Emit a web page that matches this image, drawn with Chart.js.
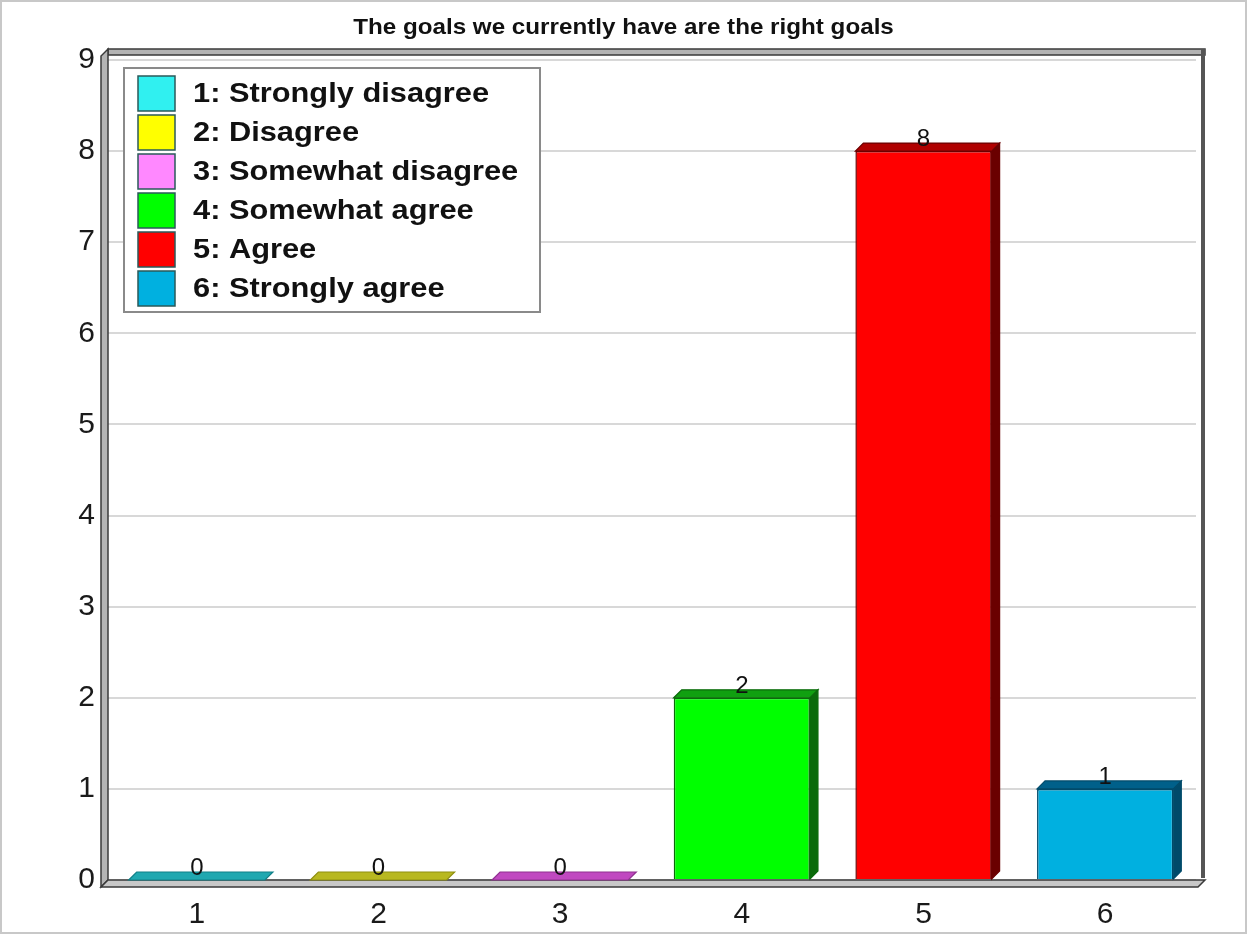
<!DOCTYPE html>
<html>
<head>
<meta charset="utf-8">
<script src="https://cdn.jsdelivr.net/npm/chart.js@4.4.0/dist/chart.umd.min.js"></script>
<style>
  body { margin: 0; background: #fff; }
  canvas { display: block; }
</style>
</head>
<body>
<canvas id="myChart" width="1247" height="934"></canvas>
<script>
var title = 'The goals we currently have are the right goals'
var labels = ['1', '2', '3', '4', '5', '6']
var legendNames = ['1: Strongly disagree', '2: Disagree', '3: Somewhat disagree', '4: Somewhat agree', '5: Agree', '6: Strongly agree']
var counts = [0, 0, 0, 2, 8, 1]

// front, top, side colours for each answer
var colors = ['#30f0f0', '#ffff00', '#ff88ff', '#00ff00', '#ff0000', '#00b0e0']
var topColors = ['#20a8b0', '#b8b820', '#c048c0', '#10a010', '#b00000', '#00608a']
var sideColors = ['#108088', '#909010', '#903090', '#0a6a0a', '#6a0000', '#004a6a']
var DEPTH = 8

var FONT = '"Liberation Sans", Arial, sans-serif'

function stretchedText(c, txt, x, y, size, bold, align) {
  c.save()
  c.font = (bold ? 'bold ' : '') + size + 'px ' + FONT
  c.translate(x, y)
  c.scale(1.1, 1)
  c.textAlign = align || 'left'
  c.textBaseline = 'middle'
  c.fillStyle = '#111'
  c.fillText(txt, 0, 0)
  c.restore()
}

var frame3d = {
  id: 'frame3d',
  beforeDraw: function(chart) {
    var c = chart.ctx
    c.save()
    c.fillStyle = '#fff'
    c.fillRect(0, 0, chart.width, chart.height)
    c.strokeStyle = '#c8c8c8'
    c.lineWidth = 2
    c.strokeRect(1, 1, chart.width - 2, chart.height - 2)
    c.restore()
    stretchedText(c, title, chart.width / 2, 28, 22, true, 'center')
  },
  beforeDatasetsDraw: function(chart) {
    var c = chart.ctx, a = chart.chartArea
    var L = a.left, R = a.right, T = a.top, B = a.bottom
    c.save()
    c.lineWidth = 1.5
    c.strokeStyle = '#3a3a3a'
    c.fillStyle = '#b4b4b4'
    // top slab
    c.beginPath()
    c.moveTo(L + 2, T - 11); c.lineTo(R + 9, T - 11); c.lineTo(R + 9, T - 5); c.lineTo(L + 2, T - 5)
    c.closePath(); c.fill(); c.stroke()
    // right wall edge
    c.fillStyle = '#555'
    c.fillRect(R + 5, T - 11, 4, B - T + 9)
    // left slab
    c.fillStyle = '#b4b4b4'
    c.beginPath()
    c.moveTo(L - 5, B + 7); c.lineTo(L - 5, T - 4); c.lineTo(L + 2, T - 11); c.lineTo(L + 2, B)
    c.closePath(); c.fill(); c.stroke()
    // floor
    c.fillStyle = '#c8c8c8'
    c.beginPath()
    c.moveTo(L - 5, B + 7); c.lineTo(R + 2, B + 7); c.lineTo(R + 9, B); c.lineTo(L + 2, B)
    c.closePath(); c.fill(); c.stroke()
    c.restore()
  },
  afterDatasetsDraw: function(chart) {
    var c = chart.ctx
    var meta = chart.getDatasetMeta(0)
    c.save()
    meta.data.forEach(function(bar, i) {
      var l = bar.x - bar.width / 2, r = bar.x + bar.width / 2
      var y = bar.y, b = bar.base
      c.lineWidth = 1.2
      c.strokeStyle = sideColors[i]
      // right side
      if (b - y > 0) {
        c.fillStyle = sideColors[i]
        c.beginPath()
        c.moveTo(r, y); c.lineTo(r + DEPTH, y - DEPTH); c.lineTo(r + DEPTH, b - DEPTH); c.lineTo(r, b)
        c.closePath(); c.fill(); c.stroke()
      }
      // top face
      c.fillStyle = topColors[i]
      c.beginPath()
      c.moveTo(l, y); c.lineTo(l + DEPTH, y - DEPTH); c.lineTo(r + DEPTH, y - DEPTH); c.lineTo(r, y)
      c.closePath(); c.fill(); c.stroke()
      // value label
      c.font = '24px ' + FONT
      c.fillStyle = '#111'
      c.textAlign = 'center'
      c.textBaseline = 'alphabetic'
      c.fillText(String(counts[i]), bar.x, y - DEPTH + 3)
    })
    c.restore()
  },
  afterDraw: function(chart) {
    var c = chart.ctx
    c.save()
    c.fillStyle = '#fff'
    c.fillRect(124, 68, 416, 244)
    c.strokeStyle = '#8a8a8a'
    c.lineWidth = 2
    c.strokeRect(124, 68, 416, 244)
    legendNames.forEach(function(name, i) {
      var yy = 76 + i * 39
      c.fillStyle = colors[i]
      c.fillRect(138, yy, 37, 35)
      c.strokeStyle = '#2a5a5a'
      c.lineWidth = 1.5
      c.strokeRect(138, yy, 37, 35)
      stretchedText(c, name, 193, yy + 18, 28, true)
    })
    c.restore()
  }
}

var ctx = document.getElementById('myChart')

var chart = new Chart(ctx, {
  type: 'bar',
  data: {
    labels: labels,
    datasets: [{
      data: counts,
      backgroundColor: colors,
      borderColor: sideColors,
      borderWidth: 1.5,
      barPercentage: 0.75,
      categoryPercentage: 1
    }]
  },
  plugins: [frame3d],
  options: {
    responsive: false,
    animation: false,
    devicePixelRatio: 1,
    layout: { padding: { top: 60, right: 51, bottom: 0, left: 0 } },
    plugins: {
      legend: { display: false },
      title: { display: false },
      tooltip: { enabled: false }
    },
    scales: {
      x: {
        grid: { display: false },
        border: { display: false },
        ticks: { color: '#1a1a1a', font: { size: 30, family: FONT }, padding: 9 },
        afterFit: function(s) { s.height = 54 }
      },
      y: {
        min: 0,
        max: 9,
        ticks: { stepSize: 1, color: '#1a1a1a', font: { size: 30, family: FONT }, padding: 11 },
        grid: { color: '#d8d8d8', lineWidth: 2, drawTicks: false },
        border: { display: false },
        afterFit: function(s) { s.width = 106 }
      }
    }
  }
});
</script>
</body>
</html>
